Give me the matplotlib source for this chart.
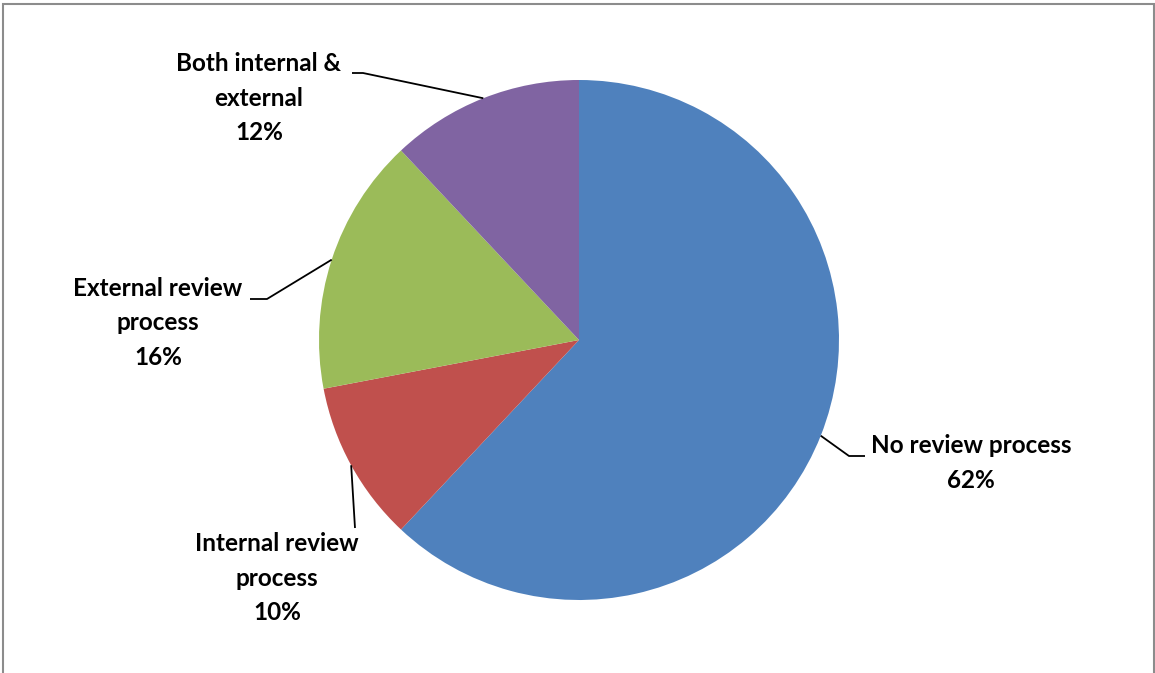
import numpy as np
import matplotlib
matplotlib.use("Agg")
import matplotlib.pyplot as plt
from matplotlib.patches import Rectangle

# данные
categories = ["No review process", "Internal review\nprocess",
              "External review\nprocess", "Both internal &\nexternal"]
shares = [62, 10, 16, 12]
colors = ["#4F81BD", "#C0504D", "#9BBB59", "#8064A2"]

W, H = 1155, 673
CX, CY, R = 579, 340, 260          # центр и радиус круга, пиксели (сверху вниз)

# подписи: позиция текста, колено линии-выноски (пиксели, y сверху)
label_pos = [(971, 463), (277, 578), (158, 323), (259, 98)]
elbows = [[(849, 456), (865, 456)],
          [(355, 528)],
          [(267, 299), (250, 299)],
          [(363, 73), (352, 73)]]

plt.rcParams["font.family"] = ["Lato", "DejaVu Sans"]

fig = plt.figure(figsize=(W / 100, H / 100), dpi=100)
ax = fig.add_axes([0, 0, 1, 1])


def fy(y):
    return H - y


wedges, _ = ax.pie(shares, colors=colors, startangle=90, counterclock=False,
                   center=(CX, fy(CY)), radius=R, frame=True,
                   wedgeprops=dict(linewidth=0))
ax.set_xlim(0, W)
ax.set_ylim(0, H)
ax.set_aspect("equal")
ax.axis("off")

ax.add_patch(Rectangle((3, fy(H + 10)), 1151, H + 6, fill=False,
                       edgecolor="#8c8c8c", lw=1.5))

for w, name, val, (tx, ty), elb in zip(wedges, categories, shares,
                                       label_pos, elbows):
    mid = np.deg2rad((w.theta1 + w.theta2) / 2)
    px = CX + R * np.cos(mid)
    py = fy(CY) + R * np.sin(mid)
    xs = [px] + [e[0] for e in elb]
    ys = [py] + [fy(e[1]) for e in elb]
    ax.plot(xs, ys, color="black", lw=1.3, solid_capstyle="butt")
    ax.text(tx, fy(ty), f"{name}\n{val}%", ha="center", va="center",
            fontsize=17.5, fontweight="bold", linespacing=1.62)

fig.savefig("out.png", dpi=100)
